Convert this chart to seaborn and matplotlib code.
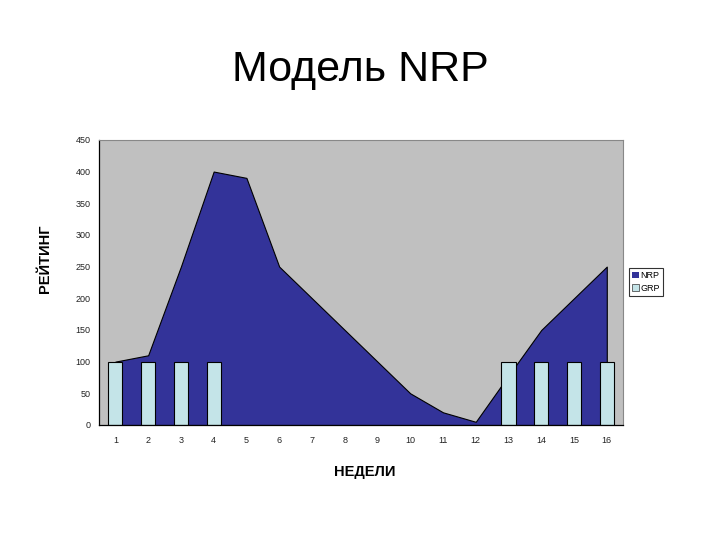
import numpy as np
import pandas as pd
import matplotlib
matplotlib.use('Agg')
import matplotlib.pyplot as plt
import seaborn as sns
from matplotlib.patches import Patch

weeks = [str(i) for i in range(1, 17)]
nrp = [100, 110, 250, 400, 390, 250, 200, 150, 100, 50, 20, 5, 78, 150, 200, 250]
grp = [100, 100, 100, 100, 0, 0, 0, 0, 0, 0, 0, 0, 100, 100, 100, 100]
y_ticks = [0, 50, 100, 150, 200, 250, 300, 350, 400, 450]

title = 'Модель NRP'
x_label = 'НЕДЕЛИ'
y_label = 'РЕЙТИНГ'

nrp_color = '#333399'
grp_color = '#c4e4e8'
bg_color = '#c0c0c0'

sns.set_style('white')
plt.rcParams['font.family'] = ['Liberation Sans', 'DejaVu Sans']
plt.rcParams['text.color'] = 'black'

df = pd.DataFrame({'week': weeks, 'NRP': nrp, 'GRP': grp})

fig = plt.figure(figsize=(7.2, 5.4), dpi=100)
ax = fig.add_axes([0.1375, 0.213, 0.728, 0.528])
ax.set_facecolor(bg_color)

# площадь NRP
pos = np.arange(len(weeks))
ax.fill_between(pos, df['NRP'], 0, color=nrp_color, linewidth=0.8,
                edgecolor='black', zorder=1)

# столбики GRP (только ненулевые)
sns.barplot(data=df, x='week', y='GRP', color=grp_color, width=0.43,
            edgecolor='black', linewidth=0.8, saturation=1, ax=ax, zorder=2)
for p, v in zip(ax.patches, grp):
    if v == 0:
        p.set_visible(False)

ax.set_xlim(-0.5, len(weeks) - 0.5)
ax.set_ylim(0, 450)
ax.set_yticks(y_ticks)
ax.set_xticks(pos)
ax.set_xticklabels(weeks)
ax.set_xticks(np.arange(0.5, len(weeks) - 0.5, 1), minor=True)
ax.tick_params(axis='x', which='major', length=0, labelsize=6.5, pad=8)
ax.tick_params(axis='x', which='minor', length=4, width=0.8, color='black',
               direction='out')
ax.tick_params(axis='y', length=4, width=0.8, color='black', direction='out',
               labelsize=6.5, pad=2)
for tl in ax.get_xticklabels() + ax.get_yticklabels():
    tl.set_color('#222222')

ax.set_xlabel('')
ax.set_ylabel('')
for side in ['top', 'right']:
    ax.spines[side].set_color('#888888')
    ax.spines[side].set_linewidth(0.8)
for side in ['left', 'bottom']:
    ax.spines[side].set_color('black')
    ax.spines[side].set_linewidth(0.9)

fig.text(0.5, 0.87, title, ha='center', va='center', fontsize=31,
         color='black')
fig.text(0.507, 0.126, x_label, ha='center', va='center', fontsize=10.5,
         fontweight='bold', color='black')
fig.text(0.062, 0.52, y_label, ha='center', va='center', rotation=90,
         fontsize=10.5, fontweight='bold', color='black')

handles = [Patch(facecolor=nrp_color, edgecolor='none', label='NRP'),
           Patch(facecolor=grp_color, edgecolor='#333333', linewidth=0.5,
                 label='GRP')]
leg = fig.legend(handles=handles, loc='center left',
                 bbox_to_anchor=(0.874, 0.478), fontsize=6.5, frameon=True,
                 fancybox=False, handlelength=0.7, handleheight=0.7,
                 handletextpad=0.2, borderpad=0.35, labelspacing=0.4,
                 borderaxespad=0)
leg.get_frame().set_edgecolor('black')
leg.get_frame().set_linewidth(0.8)

fig.savefig('out.png', dpi=100)
